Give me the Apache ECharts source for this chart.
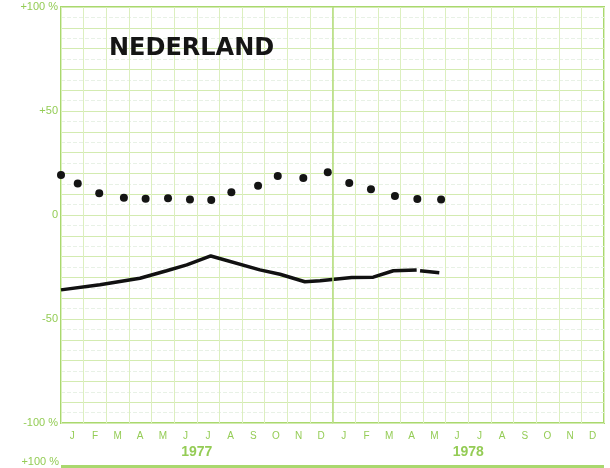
<!DOCTYPE html>
<html>
<head>
<meta charset="utf-8">
<script src="https://cdn.jsdelivr.net/npm/echarts@6/dist/echarts.min.js"></script>
<style>
html,body{margin:0;padding:0;background:#fff;}
#chart{width:610px;height:468px;}
</style>
</head>
<body>
<div id="chart"></div>
<script>
// ---- data ----
var months = ['J','F','M','A','M','J','J','A','S','O','N','D','J','F','M','A','M','J','J','A','S','O','N','D'];
var years = ['1977', '1978'];
var yTickValues = [100, 50, 0, -50, -100];
var yTickLabels = ['+100 %', '+50', '0', '-50', '-100 %'];
var title = 'NEDERLAND';

// dotted series (month position, value %)
var dotX = [0, 0.74, 1.69, 2.78, 3.74, 4.73, 5.70, 6.64, 7.53, 8.71, 9.58, 10.71, 11.79, 12.74, 13.70, 14.76, 15.75, 16.80];
var dotY = [19.2, 15.2, 10.4, 8.3, 7.8, 8.0, 7.4, 7.2, 10.9, 14.1, 18.8, 17.8, 20.5, 15.4, 12.4, 9.1, 7.7, 7.4];

// solid line series (month position, value %); null = gap
var lineX = [0, 1.72, 3.49, 4.67, 5.56, 6.62, 8.79, 9.68, 10.78, 11.45, 12.85, 13.8, 14.69, 15.72, 15.8, 15.87, 16.72];
var lineY = [-36.0, -33.5, -30.4, -26.8, -24.0, -19.7, -26.4, -28.5, -32.1, -31.6, -30.1, -29.9, -26.8, -26.4, null, -26.8, -27.8];

var green = '#a9d86e';
var labelGreen = '#94cc55';

var dotData = dotX.map(function (x, i) { return [x, dotY[i]]; });
var lineData = lineX.map(function (x, i) { return lineY[i] === null ? [x, '-'] : [x, lineY[i]]; });

var chart = echarts.init(document.getElementById('chart'));
chart.setOption({
  backgroundColor: '#ffffff',
  animation: false,
  title: {
    text: title,
    left: 104, top: 32,
    textStyle: { fontFamily: 'DejaVu Sans', fontWeight: 'bold', fontSize: 24, color: '#151515' }
  },
  grid: { left: 61, right: 6, top: 7, bottom: 45, show: true, borderColor: green, borderWidth: 2, backgroundColor: 'transparent' },
  xAxis: [
    {
      type: 'category', data: months, boundaryGap: true, position: 'bottom',
      axisLine: { show: false }, axisTick: { show: false },
      axisLabel: { color: labelGreen, fontSize: 10, margin: 8, fontFamily: 'Liberation Sans' },
      splitLine: { show: true, lineStyle: { color: '#dcefbf', width: 1 } }
    },
    {
      type: 'value', min: 0, max: 24, show: false, gridIndex: 0
    },
    {
      type: 'category', data: years, boundaryGap: true, position: 'bottom', offset: 16,
      axisLine: { show: false }, axisTick: { show: false },
      axisLabel: { color: labelGreen, fontSize: 14, fontWeight: 'bold', fontFamily: 'Liberation Sans', margin: 6 },
      splitLine: { show: false }
    }
  ],
  yAxis: {
    type: 'value', min: -100, max: 100, interval: 10,
    axisLine: { show: false }, axisTick: { show: false },
    axisLabel: {
      color: labelGreen, fontSize: 11, margin: 3, fontFamily: 'Liberation Sans',
      formatter: function (v) { var k = yTickValues.indexOf(v); return k >= 0 ? yTickLabels[k] : ''; }
    },
    splitLine: { show: true, lineStyle: { color: '#d3ebb0', width: 1 } },
    minorTick: { show: false, splitNumber: 2 },
    minorSplitLine: { show: true, lineStyle: { color: '#e8f1e6', width: 1, type: 'dashed' } }
  },
  series: [
    {
      type: 'line', xAxisIndex: 1, data: [], silent: true,
      markLine: {
        silent: true, symbol: 'none', label: { show: false },
        lineStyle: { color: '#b4dd7c', width: 1.5, type: 'solid' },
        data: [{ xAxis: 12 }]
      }
    },
    {
      type: 'line', xAxisIndex: 1, data: lineData, showSymbol: false, connectNulls: false,
      lineStyle: { color: '#111111', width: 3.5 }, itemStyle: { color: '#111111' }
    },
    {
      type: 'scatter', xAxisIndex: 1, data: dotData, symbolSize: 8,
      itemStyle: { color: '#141414', opacity: 1 }
    }
  ],
  graphic: [
    { type: 'text', right: 551, top: 456, style: { text: '+100 %', fill: labelGreen, fontSize: 11, fontFamily: 'Liberation Sans' } },
    { type: 'rect', left: 61, top: 465, shape: { width: 543, height: 3 }, style: { fill: green } }
  ]
});
</script>
</body>
</html>
